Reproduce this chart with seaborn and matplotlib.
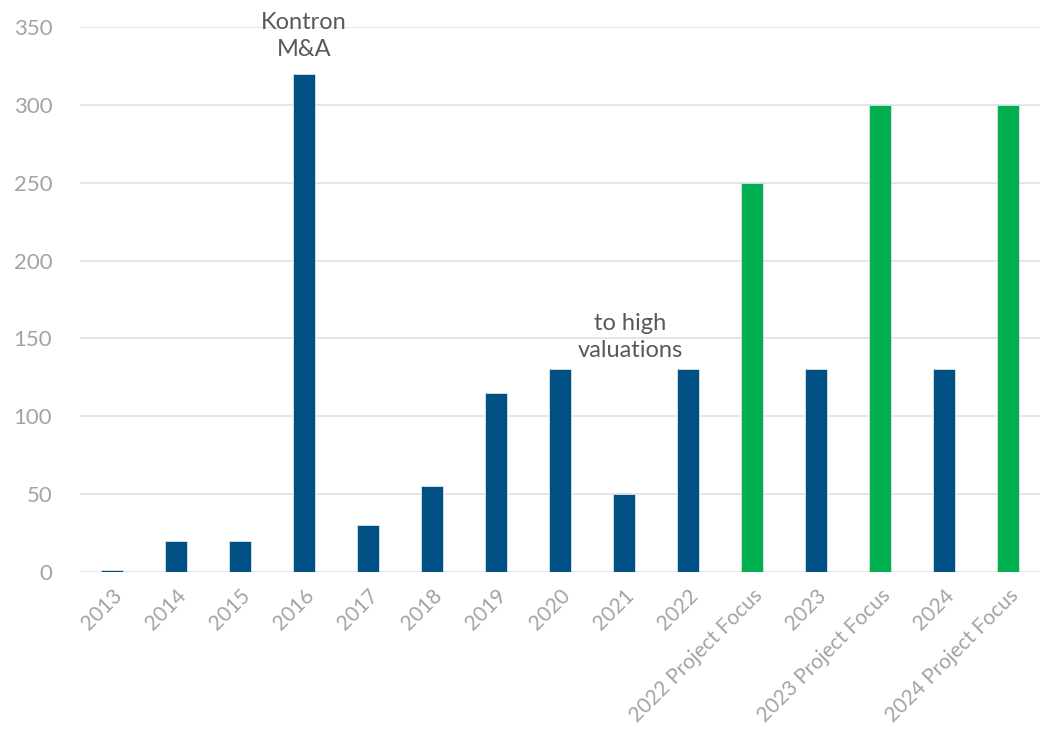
import matplotlib
matplotlib.use("Agg")
import matplotlib.pyplot as plt
import seaborn as sns
import pandas as pd

categories = ["2013", "2014", "2015", "2016", "2017", "2018", "2019", "2020",
              "2021", "2022", "2022 Project Focus", "2023", "2023 Project Focus",
              "2024", "2024 Project Focus"]
values = [1, 20, 20, 320, 30, 55, 115, 130, 50, 130, 250, 130, 300, 130, 300]
kinds = ["Actual", "Actual", "Actual", "Actual", "Actual", "Actual", "Actual", "Actual",
         "Actual", "Actual", "Focus", "Actual", "Focus", "Actual", "Focus"]
y_ticks = [0, 50, 100, 150, 200, 250, 300, 350]

sns.set_theme(style="white")
plt.rcParams["font.family"] = ["Lato", "DejaVu Sans"]

df = pd.DataFrame({"category": categories, "value": values, "kind": kinds})

fig = plt.figure(figsize=(10.56, 7.33), dpi=100)
ax = fig.add_axes([0.0758, 0.22, 0.909, 0.743])

sns.barplot(data=df, x="category", y="value", hue="kind", order=categories,
            palette={"Actual": "#005084", "Focus": "#00B050"}, dodge=False,
            saturation=1, width=0.34, edgecolor="#d9e3ec", linewidth=0.6,
            legend=False, ax=ax)

ax.set_ylim(0, 350)
ax.set_xlim(-0.5, len(categories) - 0.5)
ax.set_yticks(y_ticks)
ax.yaxis.grid(True, color="#e3e3e3", linewidth=1.3)
ax.set_axisbelow(True)
for s in ax.spines.values():
    s.set_visible(False)
ax.set_xlabel("")
ax.set_ylabel("")
ax.tick_params(axis="y", length=0, pad=20, labelsize=16, labelcolor="#a3a3a3")
ax.tick_params(axis="x", length=0, pad=10, labelsize=15, labelcolor="#a3a3a3")
for lab in ax.get_xticklabels():
    lab.set_rotation(45)
    lab.set_ha("right")
    lab.set_rotation_mode("anchor")

ax.text(3, 344, "Kontron\nM&A", ha="center", va="center", fontsize=17,
        color="#595959", linespacing=1.35, clip_on=False)
ax.text(8.1, 151, "to high\nvaluations", ha="center", va="center", fontsize=17,
        color="#595959", linespacing=1.35)

fig.savefig("out.png", dpi=100)
